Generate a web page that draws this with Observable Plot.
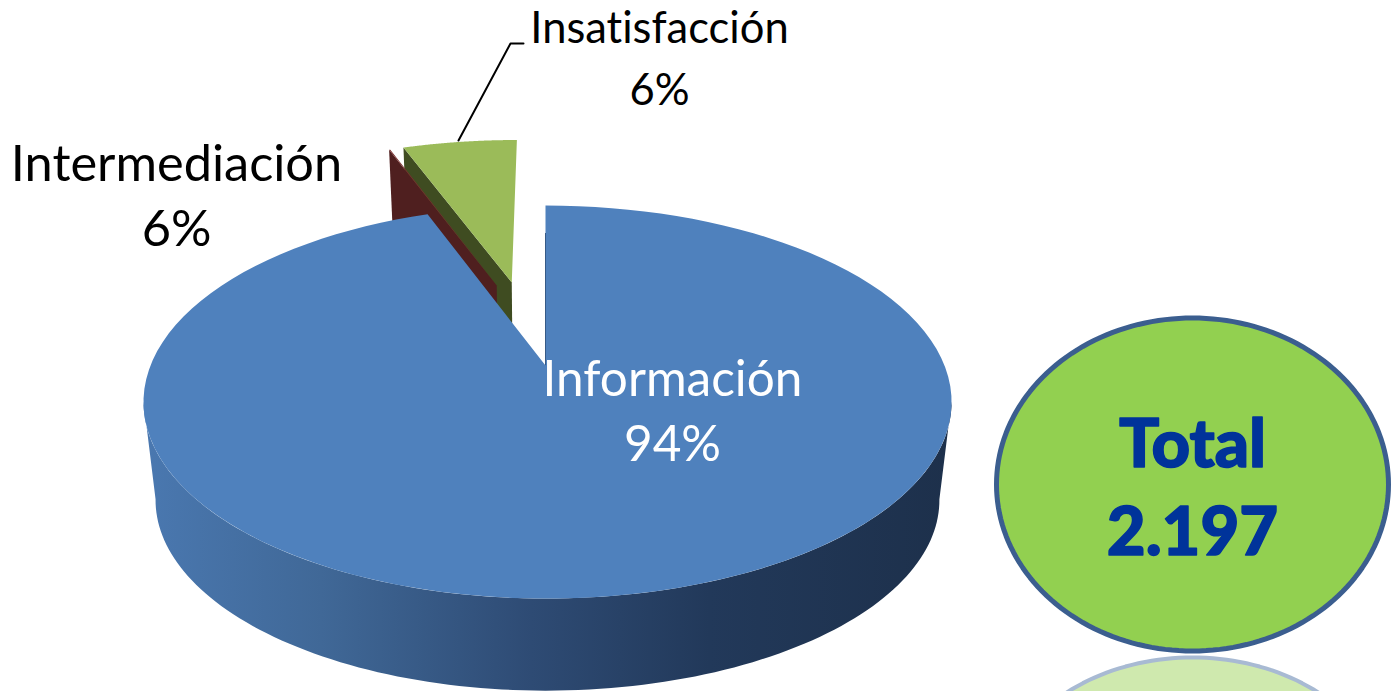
<!DOCTYPE html>
<html>
<head>
<meta charset="utf-8">
<style>html,body{margin:0;padding:0;background:#fff;overflow:hidden}svg{display:block}svg text{font-variant-ligatures:none}</style>
<script src="https://cdn.jsdelivr.net/npm/d3@7"></script>
<script src="https://cdn.jsdelivr.net/npm/@observablehq/plot@0.6"></script>
</head>
<body>
<div id="chart"></div>
<script>
// Data
const categories = ["Información", "Intermediación", "Insatisfacción"];
const percentLabels = ["94%", "6%", "6%"];
const sliceShares = [94.3, 0.06, 5.64];
const totalLabel = "Total";
const totalValue = "2.197";

// Colours
const topColors = ["#4f81bd", "#7a2f2e", "#9bbb59"];
const wallColors = ["#1f3350", "#4f1f1f", "#3f4c21"];

// Pie projection: a tilted disc seen in perspective
const cx = 545, cyTop = 401, cyBottom = 499, depthScale = 0.97;
const persp = 0.186, lift = 36, ry = 196.4;
const project = (u, v, bottom = false) => {
  const a = u < 0 ? 395 : 399;
  const X = a * u / (1 + persp * v);
  const Y = (ry * v + lift) / (1 + persp * v);
  return bottom
    ? {x: cx + depthScale * X, y: cyBottom - depthScale * Y}
    : {x: cx + X, y: cyTop - Y};
};
// Exploded offset and radius per slice
const explode = [{du: 0, dv: 0, r: 1}, {du: -0.134, dv: 0.458, r: 1.05}, {du: -0.093, dv: 0.476, r: 1.05}];
const rad = (deg) => deg * Math.PI / 180;
const rim = (deg, e, bottom) => project(e.du + e.r * Math.sin(rad(deg)), e.dv + e.r * Math.cos(rad(deg)), bottom);
const apex = (e, bottom) => project(e.du, e.dv, bottom);

const starts = [];
sliceShares.reduce((acc, s, i) => (starts[i] = acc, acc + s), 0);
const angleOf = (share) => share * 3.6;

const arc = (a0, a1, e, bottom) => d3.range(0, 121).map((i) => rim(a0 + (a1 - a0) * i / 120, e, bottom));
const sliceTop = (i) => {
  const a0 = angleOf(starts[i]), a1 = angleOf(starts[i] + sliceShares[i]);
  return [apex(explode[i]), ...arc(a0, a1, explode[i])];
};
const cutWall = (i) => {
  const a = angleOf(starts[i]), e = explode[i];
  return [apex(e), rim(a, e), rim(a, e, true), apex(e, true)];
};
const frontWall = [...arc(100.5, 259.5, explode[0]), ...arc(259.5, 100.5, explode[0], true)];

const closed = (data, fill) => Plot.line(data, {x: "x", y: "y", fill, stroke: "none", curve: "linear-closed"});

// Total badge
const ellipse = (ecx, ecy, rx, rye) => d3.range(0, 181).map((i) => ({
  x: ecx + rx * Math.cos(rad(i * 2)),
  y: ecy + rye * Math.sin(rad(i * 2))
}));

const gradientDefs = () => {
  const defs = d3.create("svg:defs");
  const g = defs.append("linearGradient").attr("id", "wallGrad").attr("x1", "0%").attr("x2", "100%").attr("y1", "0%").attr("y2", "0%");
  [[0, "#4a78b0"], [0.22, "#406897"], [0.48, "#2e4b74"], [0.7, "#22395a"], [1, "#1d304b"]]
    .forEach(([o, c]) => g.append("stop").attr("offset", o).attr("stop-color", c));
  return defs.node();
};

const labelMark = (i, x, y, size, lineHeight, fill) => Plot.text([`${categories[i]}\n${percentLabels[i]}`], {
  x: () => x, y: () => y, text: (d) => d, fill,
  fontFamily: "Lato, sans-serif", fontSize: size, lineHeight,
  textAnchor: "middle", lineAnchor: "middle"
});
const leader = [{x: 458, y: 140}, {x: 510, y: 43}, {x: 523, y: 43}];

const chart = Plot.plot({
  width: 1392, height: 691,
  margin: 0, marginTop: 0, marginRight: 0, marginBottom: 0, marginLeft: 0,
  x: {domain: [0, 1392], range: [0, 1392], axis: null},
  y: {domain: [0, 691], range: [0, 691], axis: null},
  style: {background: "#fff"},
  marks: [
    gradientDefs,
    closed(frontWall, "url(#wallGrad)"),
    closed(cutWall(2), wallColors[2]),
    closed(cutWall(1), wallColors[1]),
    closed(sliceTop(2), topColors[2]),
    closed(sliceTop(1), topColors[1]),
    Plot.line([apex(explode[0]), rim(0, {du: 0, dv: 0, r: 0.8})], {x: "x", y: "y", stroke: wallColors[0], strokeWidth: 1}),
    closed(sliceTop(0), topColors[0]),
    Plot.line(leader, {x: "x", y: "y", stroke: "#000", strokeWidth: 2}),
    labelMark(0, 672, 407, 49.5, 1.31, "#fff"),
    labelMark(1, 176, 192, 50.5, 1.29, "#000"),
    labelMark(2, 659, 54, 43.5, 1.42, "#000"),
    Plot.line(ellipse(1192, 807, 196, 150), {x: "x", y: "y", fill: "#cfe9ae", stroke: "#a8bad3", strokeWidth: 4, curve: "linear-closed"}),
    Plot.line(ellipse(1192, 484, 196, 166.5), {x: "x", y: "y", fill: "#92d050", stroke: "#3b5e8f", strokeWidth: 5, curve: "linear-closed"}),
    Plot.text([`${totalLabel}\n${totalValue}`], {
      x: () => 1192, y: () => 482, text: (d) => d,
      fill: "#00339a", stroke: "#00339a", strokeWidth: 1.5,
      fontFamily: "Lato, sans-serif", fontWeight: 900, fontSize: 67, lineHeight: 1.32,
      textAnchor: "middle", lineAnchor: "middle"
    })
  ]
});
document.getElementById("chart").appendChild(chart);
</script>
</body>
</html>
